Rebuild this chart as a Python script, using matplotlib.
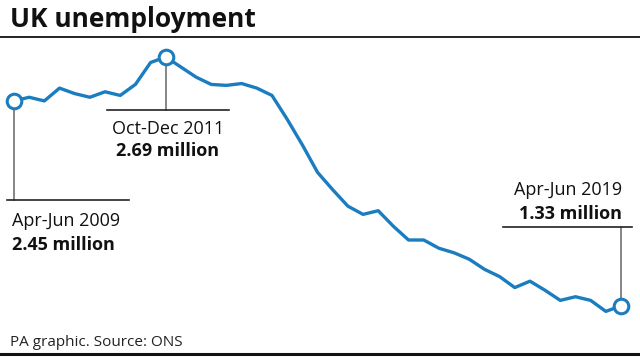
import matplotlib
matplotlib.use('Agg')
import matplotlib.pyplot as plt
from matplotlib.transforms import blended_transform_factory

plt.rcParams['font.family'] = ['Open Sans', 'DejaVu Sans']

# quarterly unemployment, Apr-Jun 2009 .. Apr-Jun 2019 (millions)
values = [2.45, 2.47, 2.45, 2.52, 2.49, 2.47, 2.50, 2.48, 2.54, 2.66,
          2.69, 2.635, 2.58, 2.54, 2.535, 2.545, 2.52, 2.48, 2.35, 2.21,
          2.06, 1.965, 1.875, 1.83, 1.85, 1.765, 1.69, 1.69, 1.645, 1.62,
          1.585, 1.53, 1.49, 1.43, 1.465, 1.415, 1.36, 1.38, 1.36, 1.30,
          1.33]
quarters = list(range(len(values)))

callout_idx = [0, 10, 40]
callout_period = ['Apr-Jun 2009', 'Oct-Dec 2011', 'Apr-Jun 2019']
callout_value = ['2.45 million', '2.69 million', '1.33 million']

W, H = 640, 357
blue = '#1a7dbf'

def fx(px):
    return px / W

def fy(py):
    return 1 - py / H

fig = plt.figure(figsize=(W / 100, H / 100), dpi=100)
ax = fig.add_axes([0, 0, 1, 1])
ax.set_axis_off()
# first quarter sits at x=14px, 15.175px per quarter; 2.69m at y=57px, 183px per million
ax.set_xlim(-14 / 15.175, (W - 14) / 15.175)
ax.set_ylim(2.69 - (H - 57) / 183, 2.69 + 57 / 183)
bt = blended_transform_factory(ax.transData, fig.transFigure)

# title, rules, source
fig.text(fx(10), fy(27), 'UK unemployment', fontsize=19, fontweight='bold',
         color='#111111', va='baseline', ha='left')
fig.add_artist(plt.Line2D([0, 1], [fy(37), fy(37)], color='#222222', lw=1.4))
fig.add_artist(plt.Line2D([0, 1], [fy(354), fy(354)], color='#111111', lw=2.2))
fig.text(fx(10), fy(346), 'PA graphic. Source: ONS', fontsize=11,
         color='#222222', va='baseline', ha='left')

# leader lines
leader_end = [200, 110, 227]
hline = [(7, 129), (107, 229), (503, 632)]
for i, k in enumerate(callout_idx):
    y_pt = ax.transData.transform((quarters[k], values[k]))[1] / (fig.dpi * fig.get_figheight())
    ax.plot([quarters[k], quarters[k]], [y_pt, fy(leader_end[i])], color='#666666',
            lw=1.1, transform=bt, zorder=1)
    fig.add_artist(plt.Line2D([fx(hline[i][0]), fx(hline[i][1])],
                              [fy(leader_end[i])] * 2, color='#222222', lw=1.2))

ax.plot(quarters, values, color=blue, lw=2.4, solid_joinstyle='round', zorder=2)
ax.plot([quarters[k] for k in callout_idx], [values[k] for k in callout_idx], 'o',
        ms=10.5, mfc='white', mec=blue, mew=2.2, zorder=3)

# callout texts
txt_pos = [(12, 226, 250, 'left'), (168, 134, 156, 'center'), (622, 195, 219, 'right')]
for i in range(3):
    x, y1, y2, ha = txt_pos[i]
    fig.text(fx(x), fy(y1), callout_period[i], fontsize=13, color='#111111',
             va='baseline', ha=ha)
    fig.text(fx(x), fy(y2), callout_value[i], fontsize=13, fontweight='bold',
             color='#111111', va='baseline', ha=ha)

fig.savefig('out.png', dpi=100)
